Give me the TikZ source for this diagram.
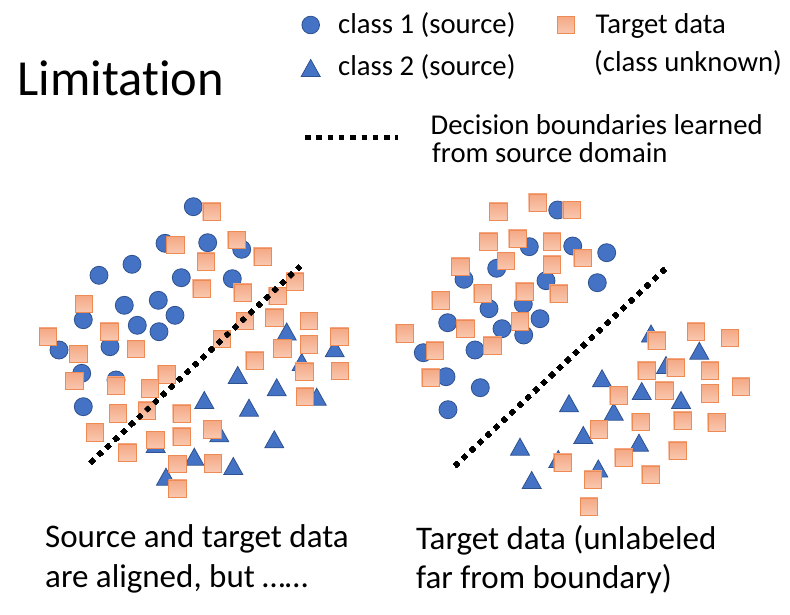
\documentclass[tikz,border=0pt]{standalone}
\usepackage{fontspec}
\setmainfont{Carlito}[Ligatures=NoCommon]
\definecolor{ptblue}{RGB}{68,114,196}
\definecolor{ptblueedge}{RGB}{47,82,143}
\definecolor{tgttop}{RGB}{244,168,132}
\definecolor{tgtbot}{RGB}{249,200,176}
\definecolor{tgtedge}{RGB}{238,138,84}
\newcommand{\tri}[2]{\fill [cls2] (#1,#2-8.5) -- (#1+9.5,#2+8.5) -- (#1-9.5,#2+8.5) -- cycle;}
\newcommand{\tgtsq}[2]{\draw [tgt] (#1-8.75,#2-8.75) rectangle (#1+8.75,#2+8.75);}
\begin{document}
\begin{tikzpicture}[x=1pt,y=-1pt,
	cls1/.style={fill=ptblue,draw=ptblueedge,line width=0.8pt},
	cls2/.style={fill=ptblue,draw=ptblueedge,line width=0.8pt},
	tgt/.style={top color=tgttop,bottom color=tgtbot,draw=tgtedge,line width=0.8pt},
	boundary/.style={line width=4.5pt,dash pattern=on 4.5pt off 6.4pt},
	txt/.style={inner sep=0pt,anchor=base west},
	lgfont/.style={font=\fontsize{28.7}{34}\selectfont}]
	\useasboundingbox (0,0) rectangle (790,615);
	% title and legend
	\node (title) [txt,font=\fontsize{50.5}{60}\selectfont] at (17.5,96) {Limitation};
	\draw [cls1] (310.7,25) circle (8.8);
	\tri{310.7}{68}
	\tgtsq{566}{25}
	\node (lgA) [txt,lgfont] at (338,34) {class 1 (source)};
	\node (lgB) [txt,lgfont] at (338,76) {class 2 (source)};
	\node (lgT) [txt,lgfont] at (595.5,34) {Target data};
	\node (lgTb) [txt,lgfont] at (594,72) {(class unknown)};
	\draw [line width=5pt,dash pattern=on 5.5pt off 5.8pt] (305,138) -- (398,138);
	\node (lgD) [txt,lgfont] at (430.5,135) {Decision boundaries learned};
	\node (lgDb) [txt,lgfont] at (432,163) {from source domain};
	% left: source and target aligned
	\foreach \x/\y in {193.3/206.7,165/243.3,207.7/242.7,241.7/249.3,99/275.3,132/264.3,181.3/277.7,
		232.3/278.7,124.3/305.3,158.3/300.3,175/315.3,83.3/319.7,137.3/325.3,159/331.7,59/350,
		110/346.7,81.7/373.3,83.3/406.7,116/380}
		\draw [cls1] (\x,\y) circle (9);
	\foreach \x/\y in {286.7/331.5,301.7/362,334.7/348.3,237.7/375,276.7/387.3,316.7/396.7,204.3/400,
		249/407.7,219.3/433.3,274.3/439.3,155.7/444,194.3/456.7,233.3/466,166/476.7}
		\tri{\x}{\y}
	\foreach \x/\y in {211.7/211.7,175.3/245,236.7/240,262.7/256.7,206/261.7,201.7/288.7,242.7/292.7,
		295/281.7,277.7/296,84/304,245/321,274.3/317.7,309/321,48/336.7,109.3/331.7,222/339,
		339.3/336.7,309/344.3,78.3/354,136/349,254.7/360.7,282.3/348.3,74.3/381,116/385.7,150/388.3,
		166.7/374.3,304.3/371.7,340/371,305/396.7,118/413.3,147/410.7,181.7/413.7,95/432.3,
		155.3/440,181.7/436.7,212.3/429.3,127.3/452.7,177.3/464,213/463.3,177.3/488.7}
		\tgtsq{\x}{\y}
	\draw [boundary] (90.5,462.7) -- (300,266.5);
	% right: target far from boundary
	\foreach \x/\y in {557.7/210,529.3/246.7,572.7/246,606.7/252.7,464/279.3,496.7/268.3,546/280.7,
		597.3/282.7,489/308.7,523.3/304,540/318.7,447.7/322.7,502/328.7,523.7/335,423.3/352.7,
		475/350,446/376.7,480.3/387.7,448/409.7}
		\draw [cls1] (\x,\y) circle (9);
	\foreach \x/\y in {651/333.5,699.3/350.7,666/365,602/378.3,641.7/391,681/400,569/403.3,
		613.7/411.7,583.3/435,639/442.7,520/446.7,558.3/459,598.3/468.5,531.7/480}
		\tri{\x}{\y}
	\foreach \x/\y in {498.3/211.7,537.7/202.7,571.7/210,488.3/241.7,517.7/238.7,552/241.7,506/261,
		460.3/266.7,552/264.7,582.7/258,482.7/293.3,524.7/291.7,558.7/293.7,440.7/300.3,
		465.3/328.7,520/321.3,404.7/333.3,492.3/345.7,435/350.7,430.7/377.7,656.7/340.7,696/331.7,
		730/338,646.7/370.7,675.7/367.7,710/370.7,618.7/395.3,664.3/390.7,710/393.3,741/386.7,
		599/429.3,640.7/422,682.7/420.7,716.7/422.3,562.7/462.7,623.7/457.7,677.7/450.7,593/479.7,
		650.7/474.7,589/506.7}
		\tgtsq{\x}{\y}
	\draw [boundary] (455,466) -- (665,269);
	% captions
	\node (capL) [txt,font=\fontsize{33}{40}\selectfont] at (45,547.3) {Source and target data};
	\node (capLb) [txt,font=\fontsize{33}{40}\selectfont] at (45,587.3) {are aligned, but ……};
	\node (capR) [txt,font=\fontsize{33}{40}\selectfont] at (416,549.3) {Target data (unlabeled};
	\node (capRb) [txt,font=\fontsize{33}{40}\selectfont] at (416,588.3) {far from boundary)};
\end{tikzpicture}
\end{document}
